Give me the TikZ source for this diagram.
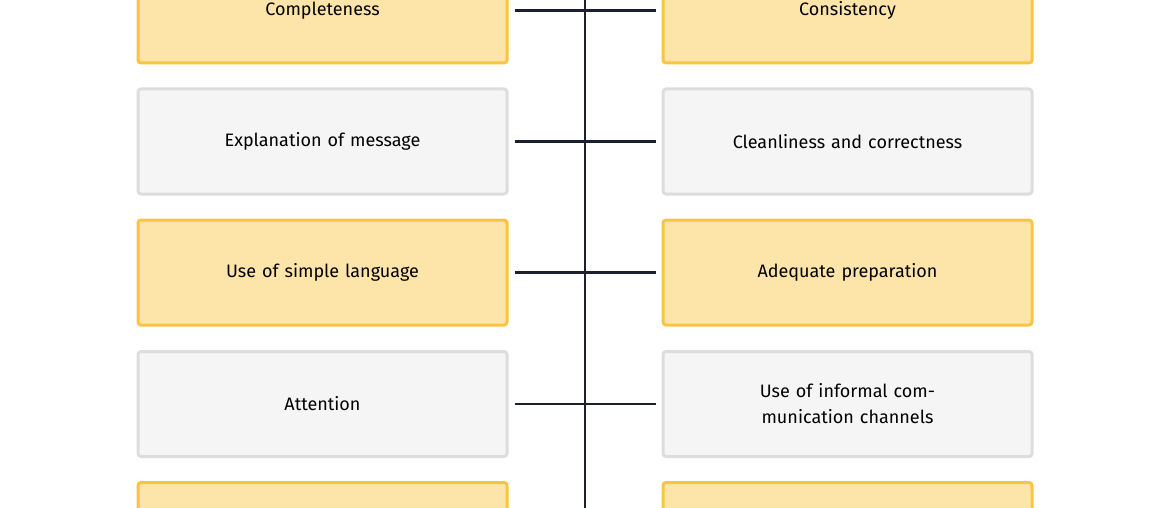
\documentclass[tikz,border=0pt]{standalone}
\usepackage{fontspec}
\setmainfont{Fira Sans}
\begin{document}
\begin{tikzpicture}[x=1pt,y=-1pt,
  box/.style={rounded corners=3pt,line width=3pt,minimum width=369pt,minimum height=105pt,text width=300pt,align=center,font=\fontsize{18}{26}\selectfont,inner sep=0pt},
  ybox/.style={box,draw=yellow!70!orange!90!white,fill=yellow!35!orange!30!white},
  gbox/.style={box,draw=black!13,fill=black!4},
  link/.style={draw=black!85!blue,line width=2.5pt}]
\useasboundingbox (0,0) rectangle (1170,508);
\colorlet{yb}{white}
\tikzset{ybox/.style={box,draw={rgb,255:red,250;green,196;blue,66},fill={rgb,255:red,253;green,229;blue,170}},
 gbox/.style={box,draw={rgb,255:red,221;green,221;blue,223},fill={rgb,255:red,245;green,245;blue,245}},
 link/.style={draw={rgb,255:red,26;green,32;blue,48},line width=2.5pt}}
\node[ybox] (L1) at (322.5,10.5) {Completeness};
\node[ybox] (R1) at (847.5,10.5) {Consistency};
\node[gbox] (L2) at (322.5,141.5) {Explanation of message};
\node[gbox] (R2) at (847.5,141.5) {Cleanliness and correctness};
\node[ybox] (L3) at (322.5,272.5) {Use of simple language};
\node[ybox] (R3) at (847.5,272.5) {Adequate preparation};
\node[gbox] (L4) at (322.5,404) {Attention};
\node[gbox] (R4) at (847.5,404) {Use of informal communication channels};
\node[ybox] (L5) at (322.5,535) {};
\node[ybox] (R5) at (847.5,535) {};
\coordinate (T) at (585,-10);
\coordinate (B) at (585,520);
\draw[link] (T) -- (B);
\foreach \i in {1,...,4}{
  \draw[link] ([xshift=6pt]L\i.east) -- ([xshift=-6pt]R\i.west);
}
\end{tikzpicture}
\end{document}
